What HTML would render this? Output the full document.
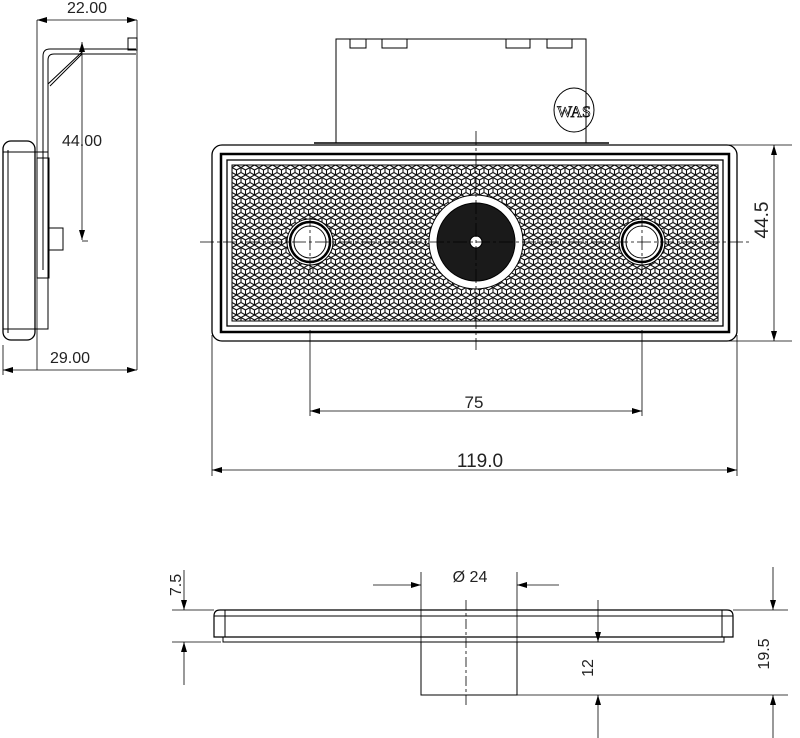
<!DOCTYPE html>
<html><head><meta charset="utf-8"><style>html,body{margin:0;padding:0;background:#fff}svg{display:block}</style></head>
<body>
<svg width="800" height="738" viewBox="0 0 800 738" xmlns="http://www.w3.org/2000/svg" font-family="Liberation Sans, sans-serif">
<defs>
<pattern id="hex" width="9" height="10" patternUnits="userSpaceOnUse" x="232" y="165">
<path d="M0 2.5 L4.5 0 L9 2.5 M0 2.5 V7.5 M9 2.5 V7.5 M0 7.5 L4.5 10 L9 7.5 M4.5 5 L0 2.5 M4.5 5 L9 2.5 M4.5 5 V10" stroke="#111" stroke-width="1.1" fill="none"/>
</pattern>
<marker id="a" markerWidth="10" markerHeight="6" refX="10" refY="3" orient="auto-start-reverse" markerUnits="userSpaceOnUse"><path d="M0 0 L10 3 L0 6z" fill="#000"/></marker>
</defs>
<g stroke="#000" fill="none" stroke-width="1">
<rect x="3" y="141" width="32" height="199" rx="8" stroke-width="1.3"/>
<line x1="8" y1="150" x2="8" y2="333"/>
<line x1="3" y1="152" x2="35" y2="152"/><line x1="3" y1="329" x2="35" y2="329"/>
<rect x="35" y="152" width="13" height="177"/>
<rect x="37" y="158" width="12" height="120"/>
<path d="M43 270 V56 Q43 49 50 49 L136 49 M48 270 V60 Q48 54 54 54 L136 54"/>
<rect x="128" y="38" width="9" height="12"/>
<line x1="48" y1="84" x2="82" y2="52"/><line x1="50" y1="86" x2="82" y2="54"/>
<rect x="48" y="228" width="15" height="22"/>
<line x1="37" y1="20" x2="37" y2="370" stroke-width="0.8"/>
<line x1="137" y1="20" x2="137" y2="370" stroke-width="0.8"/>
<line x1="3" y1="345" x2="3" y2="375" stroke-width="0.8"/>
<line x1="37" y1="20" x2="137" y2="20" marker-start="url(#a)" marker-end="url(#a)" stroke-width="0.8"/>
<line x1="3" y1="370" x2="137" y2="370" marker-start="url(#a)" marker-end="url(#a)" stroke-width="0.8"/>
<line x1="82" y1="42" x2="82" y2="240" marker-start="url(#a)" marker-end="url(#a)" stroke-width="0.8"/>
<line x1="82" y1="241" x2="88" y2="241" stroke-width="0.8"/>
<path d="M336 143 V39 H586 V143"/>
<path d="M350 39 V48 H366 V39 M382 39 V48 H407 V39 M506 39 V48 H530 V39 M547 39 V48 H572 V39"/>
<line x1="314" y1="143" x2="609" y2="143" stroke-width="1.5"/>
<ellipse cx="574" cy="110" rx="20" ry="22"/>
<text x="574" y="117" font-size="16" fill="none" stroke="#000" stroke-width="0.7" text-anchor="middle" font-family="Liberation Serif">WAS</text>
<rect x="212" y="145" width="525" height="196" rx="10" stroke-width="1.3"/>
<rect x="221" y="154" width="508" height="178" stroke-width="2.5"/>
<rect x="227" y="160" width="496" height="166" stroke-width="1.3"/>
<rect x="232" y="165" width="486" height="156" fill="url(#hex)" stroke-width="1"/>
<circle cx="476" cy="242" r="47" fill="#fff"/>
<circle cx="476" cy="242" r="39" fill="#1a1a1a"/>
<circle cx="476" cy="242" r="6" fill="#fff"/>
<circle cx="310" cy="242" r="23" fill="#fff"/>
<circle cx="310" cy="242" r="20" stroke-width="2.5"/>
<circle cx="310" cy="242" r="16"/>
<circle cx="642" cy="242" r="23" fill="#fff"/>
<circle cx="642" cy="242" r="20" stroke-width="2.5"/>
<circle cx="642" cy="242" r="16"/>
<g stroke-width="0.8" stroke-dasharray="14 3 3 3">
<line x1="200" y1="242" x2="752" y2="242"/>
<line x1="476" y1="131" x2="476" y2="350"/>
<line x1="310" y1="213" x2="310" y2="275"/>
<line x1="642" y1="213" x2="642" y2="275"/>
</g>
<g stroke-width="0.8">
<line x1="310" y1="330" x2="310" y2="416"/><line x1="642" y1="330" x2="642" y2="416"/>
<line x1="212" y1="335" x2="212" y2="476"/><line x1="737" y1="335" x2="737" y2="476"/>
<line x1="310" y1="411" x2="642" y2="411" marker-start="url(#a)" marker-end="url(#a)"/>
<line x1="212" y1="470" x2="737" y2="470" marker-start="url(#a)" marker-end="url(#a)"/>
<line x1="640" y1="145" x2="792" y2="145"/><line x1="640" y1="341" x2="792" y2="341"/>
<line x1="774" y1="145" x2="774" y2="341" marker-start="url(#a)" marker-end="url(#a)"/>
</g>
<path d="M214 637 V616 Q214 610 220 610 H727 Q733 610 733 616 V637 Z" stroke-width="1.2"/>
<line x1="225" y1="610" x2="225" y2="637"/><line x1="722" y1="610" x2="722" y2="637"/>
<line x1="214" y1="616" x2="733" y2="616"/>
<path d="M223 637 V642 H724 V637"/>
<path d="M421 642 V695 H517 V642"/>
<g stroke-width="0.8">
<line x1="421" y1="572" x2="421" y2="642"/><line x1="517" y1="572" x2="517" y2="642"/>
<line x1="373" y1="585" x2="421" y2="585" marker-end="url(#a)"/>
<line x1="559" y1="585" x2="517" y2="585" marker-end="url(#a)"/>
<line x1="466" y1="600" x2="466" y2="708" stroke-dasharray="10 3 3 3"/>
<line x1="172" y1="610" x2="214" y2="610"/><line x1="172" y1="642" x2="221" y2="642"/>
<line x1="184" y1="570" x2="184" y2="610" marker-end="url(#a)"/>
<line x1="184" y1="685" x2="184" y2="642" marker-end="url(#a)"/>
<line x1="517" y1="695" x2="788" y2="695"/><line x1="733" y1="610" x2="788" y2="610"/>
<line x1="598" y1="600" x2="598" y2="642" marker-end="url(#a)"/>
<line x1="598" y1="738" x2="598" y2="695" marker-end="url(#a)"/>
<line x1="773" y1="567" x2="773" y2="610" marker-end="url(#a)"/>
<line x1="773" y1="738" x2="773" y2="695" marker-end="url(#a)"/>
</g>
</g>
<g font-size="16" fill="#222">
<text x="87" y="13" text-anchor="middle">22.00</text>
<text x="70" y="363" text-anchor="middle">29.00</text>
<text x="82" y="146" text-anchor="middle">44.00</text>
<text x="474" y="408" text-anchor="middle" font-size="17">75</text>
<text x="480" y="467" text-anchor="middle" font-size="19">119.0</text>
<text transform="translate(768,220) rotate(-90)" text-anchor="middle" font-size="19">44.5</text>
<text x="470" y="582" text-anchor="middle">Ø 24</text>
<text transform="translate(181,585) rotate(-90)" text-anchor="middle">7.5</text>
<text transform="translate(593,668) rotate(-90)" text-anchor="middle">12</text>
<text transform="translate(769,654) rotate(-90)" text-anchor="middle">19.5</text>
</g>
</svg>
</body></html>
